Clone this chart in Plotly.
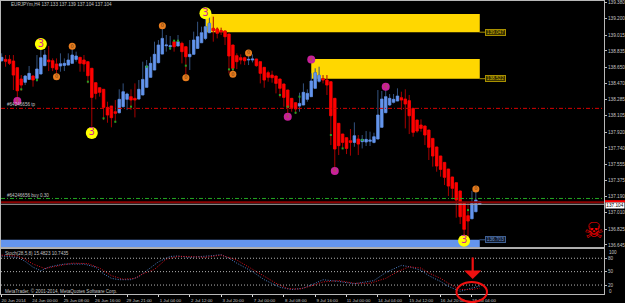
import plotly.graph_objects as go

WIDTH, HEIGHT = 625, 303

# H4 bars, oldest first
OPEN = [138.725,138.740,138.740,138.721,138.646,138.518,138.481,138.514,138.552,138.526,
        138.575,138.669,138.733,138.725,138.688,138.665,138.672,138.676,138.695,138.740,
        138.763,138.733,138.714,138.639,138.477,138.420,138.402,138.198,138.213,138.149,
        138.138,138.206,138.289,138.319,138.300,138.292,138.338,138.424,138.537,138.620,
        138.703,138.800,138.894,138.883,138.940,138.891,138.921,138.883,138.770,138.797,
        138.864,138.928,138.977,139.041,139.090,139.083,139.064,139.060,139.026,138.902,
        138.782,138.759,138.759,138.733,138.733,138.744,138.714,138.650,138.590,138.563,
        138.552,138.518,138.462,138.394,138.300,138.251,138.213,138.225,138.289,138.319,
        138.413,138.492,138.522,138.507,138.488,138.300,138.018,137.897,137.856,137.822,
        137.803,137.841,137.811,137.807,137.815,137.803,137.841,137.973,138.138,138.225,
        138.255,138.270,138.307,138.292,138.274,138.187,138.055,137.999,137.988,137.942,
        137.848,137.751,137.649,137.577,137.502,137.412,137.348,137.254,137.115,136.975,
        136.941,137.020,137.133]
HIGH = [138.808,138.789,138.789,138.789,138.646,138.563,138.563,138.665,138.563,138.789,
        138.846,138.846,138.891,138.751,138.751,138.808,138.751,138.808,138.864,138.827,
        138.763,138.789,138.714,138.639,138.477,138.420,138.402,138.262,138.213,138.281,
        138.402,138.469,138.364,138.402,138.469,138.507,138.714,138.733,138.770,138.940,
        138.958,139.109,139.015,139.004,138.951,139.015,138.940,138.883,138.958,139.053,
        139.165,139.109,139.222,139.297,139.222,139.101,139.098,139.060,139.026,138.902,
        138.808,138.797,138.770,138.808,138.797,138.744,138.714,138.650,138.612,138.612,
        138.552,138.518,138.462,138.394,138.300,138.251,138.364,138.469,138.402,138.582,
        138.639,138.657,138.563,138.563,138.488,138.300,138.018,137.897,137.856,137.954,
        138.029,137.886,137.886,137.931,137.924,137.912,138.394,138.383,138.413,138.349,
        138.349,138.413,138.375,138.402,138.338,138.187,138.055,138.063,137.988,137.942,
        137.848,137.751,137.649,137.577,137.502,137.412,137.348,137.254,137.115,137.115,
        137.254,137.246,137.139]
LOW = [138.714,138.657,138.676,138.394,138.281,138.386,138.450,138.507,138.432,138.488,
       138.575,138.669,138.608,138.608,138.563,138.601,138.608,138.676,138.695,138.714,
       138.601,138.601,138.469,137.980,138.289,138.319,138.055,138.025,137.973,138.025,
       138.131,138.198,138.168,138.168,138.085,138.292,138.338,138.424,138.537,138.620,
       138.695,138.800,138.827,138.846,138.827,138.891,138.695,138.563,138.620,138.797,
       138.864,138.928,138.958,139.041,138.940,138.977,139.015,138.902,138.582,138.575,
       138.631,138.684,138.676,138.676,138.706,138.657,138.469,138.420,138.488,138.477,
       138.356,138.311,138.206,138.131,138.149,138.123,138.149,138.225,138.262,138.319,
       138.413,138.477,138.469,138.338,137.773,137.510,137.660,137.735,137.671,137.653,
       137.754,137.660,137.735,137.762,137.762,137.792,137.841,137.973,138.138,138.213,
       138.243,138.270,138.168,137.961,137.897,137.867,137.912,137.924,137.773,137.604,
       137.529,137.472,137.416,137.322,137.197,137.160,136.953,136.881,136.757,136.738,
       136.941,137.020,137.104]
CLOSE = [138.763,138.718,138.695,138.563,138.386,138.450,138.552,138.582,138.507,138.631,
         138.759,138.789,138.714,138.646,138.627,138.691,138.695,138.733,138.789,138.778,
         138.695,138.688,138.556,138.311,138.356,138.368,138.198,138.112,138.082,138.131,
         138.289,138.375,138.349,138.281,138.281,138.402,138.514,138.665,138.695,138.797,
         138.902,138.977,138.902,138.894,138.883,138.940,138.827,138.770,138.797,138.958,
         138.996,139.041,139.109,139.147,139.064,139.034,139.053,138.996,138.778,138.639,
         138.714,138.733,138.725,138.740,138.744,138.669,138.582,138.507,138.537,138.533,
         138.469,138.413,138.311,138.198,138.195,138.180,138.243,138.368,138.356,138.496,
         138.590,138.560,138.507,138.450,138.104,137.728,137.766,137.803,137.735,137.803,
         137.878,137.784,137.837,137.837,137.830,137.867,138.112,138.292,138.319,138.300,
         138.289,138.326,138.281,138.236,138.104,137.916,137.931,137.961,137.886,137.747,
         137.649,137.536,137.498,137.408,137.310,137.284,137.152,136.964,136.821,136.915,
         137.115,137.152,137.104]

# Small green signal ticks on the bars
SIGNAL_BAR = [5, 9, 22, 26, 29, 33, 37, 43, 44, 45, 47, 58, 59, 71, 73, 75, 76, 84, 87, 92, 119]
SIGNAL_PRICE = [138.402, 138.507, 138.488, 138.074, 138.036, 138.206, 138.657, 138.864,
                138.951, 138.951, 138.669, 138.627, 138.627, 138.338, 138.206, 138.138,
                138.319, 137.886, 137.735, 137.830, 137.039]

# Numbered fractal badges
YELLOW_BAR = [10, 23, 52, 118]
YELLOW_PRICE = [138.913, 137.909, 139.260, 136.693]
ORANGE_BAR = [18, 14, 41, 47, 63, 59, 121]
ORANGE_PRICE = [138.887, 138.544, 139.120, 138.533, 138.812, 138.571, 137.276]
PINK_BAR = [4, 79, 73, 98, 85]
PINK_PRICE = [138.270, 138.740, 138.093, 138.432, 137.480]

# Supply and demand zones
SUPPLY_UPPER = [139.252, 138.744]
SUPPLY_LOWER = [139.047, 138.522]
SUPPLY_START = [52, 79]
DEMAND_UPPER = 136.703
DEMAND_LOWER = 136.622
ZONE_END = 122

TP_PRICE = 138.187
BUY_PRICE = 137.170
OPEN_ORDER_PRICE = 137.126
BID_PRICE = 137.104

PRICE_TICKS = [139.380, 139.200, 139.015, 138.835, 138.650, 138.470, 138.285, 138.105,
               137.920, 137.740, 137.555, 137.375, 137.190, 137.010, 136.825, 136.645]

TIME_BARS = list(range(0, 121, 8))
TIME_LABELS = ["20 Jun 2014", "24 Jun 00:00", "25 Jun 08:00", "26 Jun 16:00", "29 Jun 21:00",
               "1 Jul 04:00", "2 Jul 12:00", "3 Jul 20:00", "7 Jul 00:00", "8 Jul 08:00",
               "9 Jul 16:00", "11 Jul 00:00", "14 Jul 04:00", "15 Jul 12:00", "16 Jul 20:00",
               "18 Jul 04:00"]

# Stochastic oscillator
K_BAR = [0, 4, 6, 8, 10, 12, 14, 16, 21, 24, 26, 28, 30, 33, 35, 38, 40, 43, 45, 48, 52, 54, 56,
         58, 60, 64, 67, 71, 74, 77, 80, 82, 86, 90, 95, 98, 102, 104, 107, 109, 112, 114, 117,
         119, 122]
K_VALUE = [85, 82, 73, 60, 52, 60, 64, 67, 67, 60, 45, 35, 32, 32, 39, 58, 72, 84, 85, 82, 84,
           86, 88, 80, 69, 50, 32, 15, 10, 13, 24, 32, 28, 23, 30, 48, 64, 61, 53, 41, 28, 17,
           6, 11, 18]
D_BAR = [0, 4, 6, 8, 11, 13, 16, 18, 22, 25, 28, 31, 34, 36, 39, 42, 45, 47, 52, 54, 56, 60, 63,
         66, 70, 73, 76, 79, 82, 86, 90, 94, 98, 101, 104, 107, 109, 112, 114, 117, 120, 122]
D_VALUE = [87, 85, 78, 67, 57, 60, 66, 69, 68, 58, 41, 33, 35, 45, 55, 78, 84, 84, 82, 85, 87,
           76, 61, 45, 24, 12, 11, 18, 27, 30, 24, 24, 35, 50, 61, 58, 47, 35, 24, 10, 10, 13]
STOCH_LEVELS = [80, 50, 20]

BLUE = "#6495ed"
RED = "#ff0000"
BLUE_WICK = "#34527f"
RED_WICK = "#a80000"
GOLD = "#ffd700"
TEXT = "#c4c4c4"
FONT = "Liberation Sans"

# Plot area sits between these pixel edges
LEFT, RIGHT, TOP, BOTTOM = 1, 604, 1, 294
MAIN_BOTTOM = 247
STOCH_TOP = 249.3
X_RANGE = [-0.17, 153.7]
Y_RANGE = [136.622, 139.399]


def px(x):
    return (x - LEFT) / (RIGHT - LEFT)


def py(y):
    return (BOTTOM - y) / (BOTTOM - TOP)


n = len(OPEN)
last = n - 1
bull = [i for i in range(n) if CLOSE[i] >= OPEN[i] or i == last]
bear = [i for i in range(n) if i not in bull]

fig = go.Figure()


def add_candles(name, idx, body, wick):
    pick = lambda s: [s[i] for i in idx]
    x = list(idx)
    # Full range in the wick colour, then the open-close span on top in the body colour
    fig.add_trace(go.Candlestick(
        x=x, open=pick(OPEN), high=pick(HIGH), low=pick(LOW), close=pick(CLOSE),
        name=name + " wicks", whiskerwidth=0, showlegend=False, hoverinfo="skip",
        increasing=dict(line=dict(color=wick, width=1), fillcolor="rgba(0,0,0,0)"),
        decreasing=dict(line=dict(color=wick, width=1), fillcolor="rgba(0,0,0,0)"),
        xaxis="x", yaxis="y"))
    tops = [max(OPEN[i], CLOSE[i]) for i in idx]
    bottoms = [min(OPEN[i], CLOSE[i]) for i in idx]
    fig.add_trace(go.Candlestick(
        x=x, open=pick(OPEN), high=tops, low=bottoms, close=pick(CLOSE),
        name=name, whiskerwidth=0, showlegend=False,
        increasing=dict(line=dict(color=body, width=0.5), fillcolor=body),
        decreasing=dict(line=dict(color=body, width=0.5), fillcolor=body),
        xaxis="x", yaxis="y"))


add_candles("Bull", bull, BLUE, BLUE_WICK)
add_candles("Bear", bear, RED, RED_WICK)

fig.add_trace(go.Scatter(
    x=SIGNAL_BAR, y=SIGNAL_PRICE, mode="markers", showlegend=False,
    marker=dict(symbol="square", size=2, color="#23a623"), xaxis="x", yaxis="y"))


def add_badges(bars, prices, label, fill, size, text_color, text_size):
    fig.add_trace(go.Scatter(
        x=bars, y=prices, mode="markers+text", showlegend=False,
        text=[label] * len(bars), textposition="middle center", cliponaxis=False,
        textfont=dict(family="DejaVu Sans", size=text_size, color=text_color),
        marker=dict(size=size, color=fill, line=dict(width=0)), xaxis="x", yaxis="y"))


add_badges(YELLOW_BAR, YELLOW_PRICE, "3", "#ffff00", 12, "#d0209a", 10)
add_badges(ORANGE_BAR, ORANGE_PRICE, "0", "#e87d1e", 7, "#6a3a10", 5)
add_badges(PINK_BAR, PINK_PRICE, "4", "#c8209a", 8, "#a06030", 5)

fig.add_trace(go.Scatter(
    x=K_BAR, y=K_VALUE, mode="lines", name="%K", showlegend=False,
    line=dict(color="#4f82cc", width=1, dash="1px,1.5px"), xaxis="x2", yaxis="y2"))
fig.add_trace(go.Scatter(
    x=D_BAR, y=D_VALUE, mode="lines", name="%D", showlegend=False,
    line=dict(color="#e01020", width=1, dash="1px,1.5px"), xaxis="x2", yaxis="y2"))

shapes = []
for start, upper, lower in zip(SUPPLY_START, SUPPLY_UPPER, SUPPLY_LOWER):
    shapes.append(dict(type="rect", xref="x", yref="y", x0=start, x1=ZONE_END, y0=lower, y1=upper,
                       fillcolor=GOLD, line=dict(width=0), layer="below"))
    shapes.append(dict(type="line", xref="paper", yref="y", x0=px(479.5), x1=px(485),
                       y0=lower, y1=lower, line=dict(color="#a89000", width=1)))
shapes.append(dict(type="rect", xref="x", yref="y", x0=X_RANGE[0], x1=ZONE_END,
                   y0=DEMAND_LOWER, y1=DEMAND_UPPER, fillcolor=BLUE, line=dict(width=0), layer="below"))
shapes.append(dict(type="line", xref="paper", yref="y", x0=px(479.5), x1=px(485),
                   y0=DEMAND_UPPER, y1=DEMAND_UPPER, line=dict(color="#3f5f90", width=1)))

for price, color, width, dash in [(TP_PRICE, "#d80000", 1, "4px,2px,1px,2px"),
                                  (BUY_PRICE, "#22a822", 1, "4px,2px,1px,2px"),
                                  (OPEN_ORDER_PRICE, "#8b0000", 2, "solid"),
                                  (BID_PRICE, "#a6a6a6", 1, "solid")]:
    shapes.append(dict(type="line", xref="x", yref="y", x0=X_RANGE[0], x1=X_RANGE[1],
                       y0=price, y1=price, line=dict(color=color, width=width, dash=dash)))

for level in STOCH_LEVELS:
    shapes.append(dict(type="line", xref="x2", yref="y2", x0=X_RANGE[0], x1=X_RANGE[1],
                       y0=level, y1=level, line=dict(color="#b4b4b4", width=1, dash="1px,2px")))

# Window separator and the strip over the bid tag
shapes.append(dict(type="rect", xref="paper", yref="paper", x0=0, x1=1, y0=py(248.6), y1=py(247.2),
                   fillcolor="#a8a8a8", line=dict(width=0)))
shapes.append(dict(type="rect", xref="paper", yref="paper", x0=px(605), x1=px(625), y0=py(202.4), y1=py(200.2),
                   fillcolor=RED, line=dict(width=0)))
# Hand-drawn ring around the oscillator's latest values
shapes.append(dict(type="circle", xref="paper", yref="paper", x0=px(456.5), x1=px(487),
                   y0=py(302), y1=py(282), line=dict(color="#f01010", width=2)))

annotations = []


def label(x, y, text, size=4.6, color=TEXT):
    annotations.append(dict(xref="paper", yref="paper", x=px(x), y=py(y), text=text, showarrow=False,
                            xanchor="left", yanchor="middle", font=dict(family=FONT, size=size, color=color)))


label(9, 5, "EURJPYm,H4 137.133 137.139 137.104 137.104")
label(5, 105, "#64246656 tp")
label(5, 195.5, "#64246656 buy 0.30")
label(3, 253, "Stoch(28,5,8) 15.4823 10.7435")
label(3, 290.5, "MetaTrader, © 2001-2014, MetaQuotes Software Corp.")
# End labels of the oscillator scale sit just inside its window
label(607, 252, "100")
label(607, 291, "0")

for price, edge, fill, color in [(SUPPLY_LOWER[0], "#a89000", "#3a3200", "#c8b000"),
                                 (SUPPLY_LOWER[1], "#a89000", "#3a3200", "#c8b000"),
                                 (DEMAND_UPPER, "#3f5f90", "#101c30", "#6f8fc8")]:
    annotations.append(dict(xref="paper", yref="y", x=px(495.5), y=price, xanchor="center", yanchor="middle",
                            text=f"{price:.3f}", showarrow=False,
                            font=dict(family=FONT, size=4.7, color=color), bgcolor=fill,
                            bordercolor=edge, borderwidth=1, borderpad=0, width=19, height=5))

annotations.append(dict(xref="paper", yref="y", x=px(605), y=BID_PRICE, xanchor="left", yanchor="middle", yshift=-1,
                        text=f"{BID_PRICE:.3f}", showarrow=False, bgcolor="#ffffff",
                        font=dict(family=FONT, size=4.7, color="#000000"), width=18, height=5, borderpad=0))
annotations.append(dict(xref="paper", yref="paper", x=px(593.5), y=py(230), xanchor="center", yanchor="middle",
                        text="☠", showarrow=False, font=dict(family="DejaVu Sans", size=22, color=RED)))
annotations.append(dict(xref="paper", yref="paper", x=px(472.7), y=py(279), ax=0, ay=-23, text="",
                        showarrow=True, arrowhead=1, arrowsize=1.3, arrowwidth=2.2, arrowcolor="#f01010"))

axis_line = dict(showline=True, linecolor="#b8b8b8", linewidth=1, mirror=True, showgrid=False, zeroline=False)

fig.update_layout(
    width=WIDTH, height=HEIGHT,
    margin=dict(l=LEFT, r=WIDTH - RIGHT, t=TOP, b=HEIGHT - BOTTOM, autoexpand=False),
    paper_bgcolor="#000000", plot_bgcolor="#000000",
    showlegend=False, boxmode="overlay", boxgap=0.12,
    font=dict(family=FONT, size=5, color=TEXT),
    xaxis=dict(range=X_RANGE, anchor="y", domain=[0, 1], showticklabels=False, ticks="",
               rangeslider=dict(visible=False), **axis_line),
    yaxis=dict(range=Y_RANGE, anchor="x", side="right", domain=[py(MAIN_BOTTOM), 1],
               tickvals=PRICE_TICKS, tickformat=".3f", ticks="outside", ticklen=2, tickcolor="#b8b8b8",
               tickwidth=1, tickfont=dict(family=FONT, size=4.7, color=TEXT), **axis_line),
    xaxis2=dict(range=X_RANGE, anchor="y2", domain=[0, 1], tickmode="array", tickvals=TIME_BARS,
                ticktext=TIME_LABELS, ticks="outside", ticklen=2, tickcolor="#d8d8d8", tickangle=0,
                ticklabelshift=12, ticklabelstandoff=0, ticklabeloverflow="allow",
                tickfont=dict(family=FONT, size=4.4, color=TEXT), **axis_line),
    yaxis2=dict(range=[0, 100], anchor="x2", side="right", domain=[0, py(STOCH_TOP)],
                tickvals=STOCH_LEVELS, ticks="outside", ticklen=2, tickcolor="#b8b8b8",
                tickfont=dict(family=FONT, size=4.6, color=TEXT), **axis_line),
    shapes=shapes, annotations=annotations,
)

fig.write_html("out.html", config=dict(displayModeBar=False))
